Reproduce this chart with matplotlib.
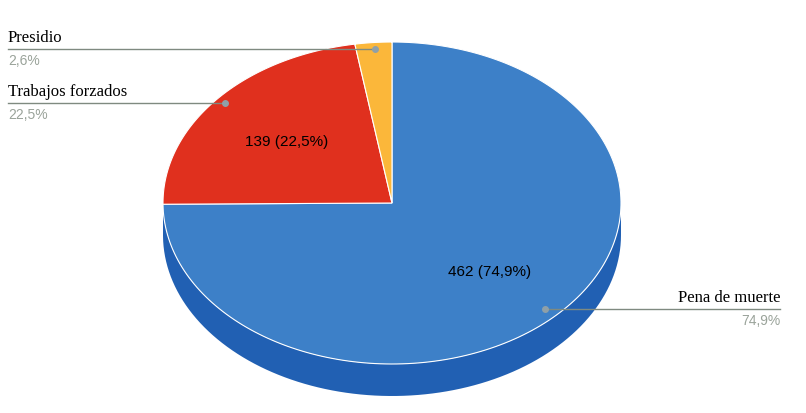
import numpy as np
import matplotlib.pyplot as plt
from matplotlib.patches import Polygon

labels = ['Pena de muerte', 'Trabajos forzados', 'Presidio']
values = [462, 139, 16]
colors = ['#3d80c8', '#e0301e', '#fbb73a']
side_colors = ['#2160b3', '#a8241a', '#c98f2a']

total = sum(values)
pcts = [v / total * 100 for v in values]
fmt = lambda p: f'{p:.1f}'.replace('.', ',') + '%'

fig = plt.figure(figsize=(8.06, 4.14), dpi=100)
ax = fig.add_axes([0, 0, 1, 1])
ax.set_xlim(0, 806)
ax.set_ylim(414, 0)
ax.axis('off')

cx, cy, rx, ry, depth = 392, 204, 229, 161, 32

def pt(theta, dy=0):
    # theta in degrees, clockwise from 12 o'clock
    t = np.radians(theta)
    return cx + rx * np.sin(t), cy - ry * np.cos(t) + dy

# slice angles
bounds = np.concatenate([[0], np.cumsum(values) / total * 360])

# side wall (visible front half: 90..270 deg)
for i in range(len(values)):
    a0, a1 = max(bounds[i], 90), min(bounds[i + 1], 270)
    if a1 <= a0:
        continue
    th = np.linspace(a0, a1, 100)
    top = [pt(t) for t in th]
    bot = [pt(t, depth) for t in th[::-1]]
    ax.add_patch(Polygon(top + bot, closed=True, fc=side_colors[i], ec='none'))

# top face
for i in range(len(values)):
    th = np.linspace(bounds[i], bounds[i + 1], 200)
    verts = [(cx, cy)] + [pt(t) for t in th]
    ax.add_patch(Polygon(verts, closed=True, fc=colors[i], ec='white', lw=0.8))

# inner labels
for i in [0, 1]:
    mid = (bounds[i] + bounds[i + 1]) / 2
    t = np.radians(mid)
    x = cx + 0.6 * rx * np.sin(t)
    y = cy - 0.6 * ry * np.cos(t)
    ax.text(x, y, f'{values[i]} ({fmt(pcts[i])})', ha='center', va='center',
            fontsize=11, color='black', family='Liberation Sans')

serif = 'Liberation Serif'
gray = '#9aa39a'
# Presidio
ax.plot([8, 375], [50, 50], color='#7f8a80', lw=1)
ax.plot(375, 50, 'o', ms=4, color='#8fa0a8')
ax.text(8, 46, labels[2], fontsize=12, family=serif, va='bottom')
ax.text(8, 54, fmt(pcts[2]), fontsize=10, color=gray, family='Liberation Sans', va='top')
# Trabajos forzados
ax.plot([8, 225], [104, 104], color='#7f8a80', lw=1)
ax.plot(225, 104, 'o', ms=4, color='#8fa0a8')
ax.text(8, 100, labels[1], fontsize=12, family=serif, va='bottom')
ax.text(8, 108, fmt(pcts[1]), fontsize=10, color=gray, family='Liberation Sans', va='top')
# Pena de muerte
ax.plot([545, 780], [310, 310], color='#7f8a80', lw=1)
ax.plot(545, 310, 'o', ms=4, color='#8fa0a8')
ax.text(780, 306, labels[0], fontsize=12, family=serif, va='bottom', ha='right')
ax.text(780, 314, fmt(pcts[0]), fontsize=10, color=gray, family='Liberation Sans', va='top', ha='right')

fig.savefig('out.png', dpi=100)
